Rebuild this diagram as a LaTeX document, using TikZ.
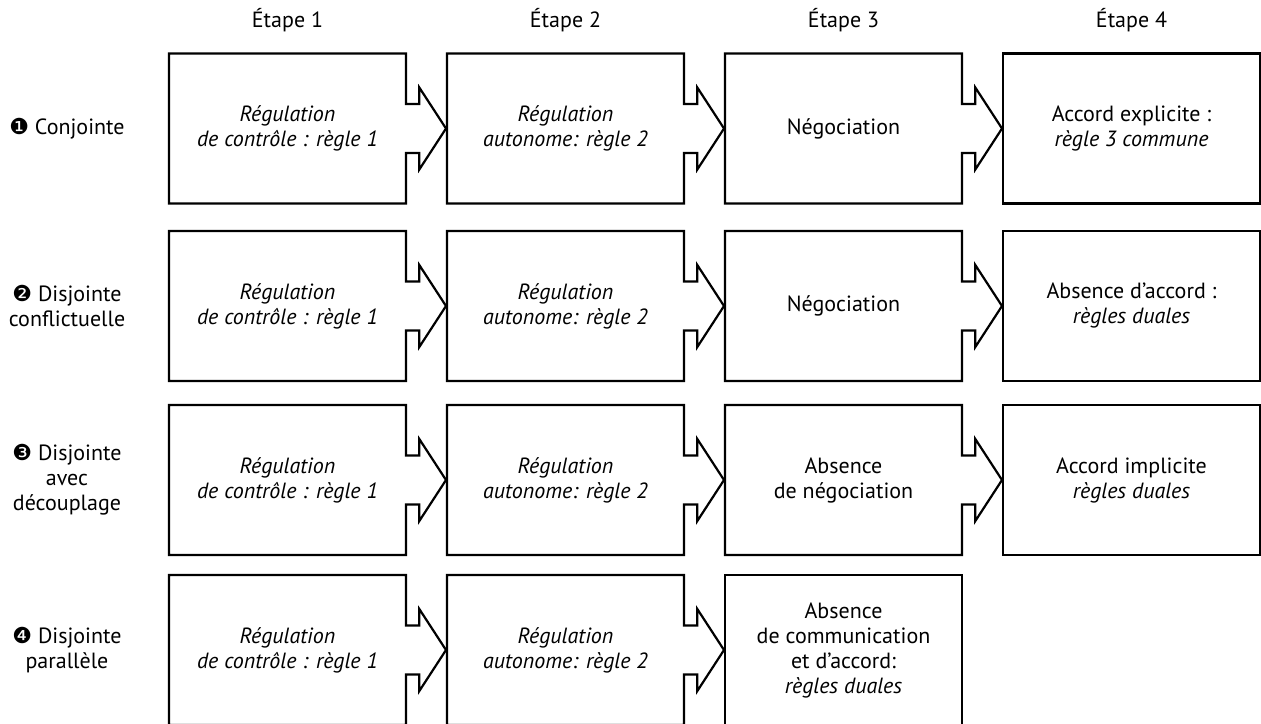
\documentclass[tikz,border=0pt]{standalone}
\usepackage{fontspec}
\setmainfont{PT Sans}
\newfontfamily\dingfont{DejaVu Sans}
\tikzset{
  stepbox/.style={minimum width=118.5pt, minimum height=75pt, inner sep=0pt, outer sep=0pt, align=center},
  lastbox/.style={stepbox, minimum width=128.5pt, draw, line width=1.1pt},
  frame/.style={line width=1.1pt, line join=miter},
  rowlabel/.style={align=center},
}
\begin{document}
\fontsize{11pt}{12.5pt}\selectfont
\begin{tikzpicture}[x=0.5pt, y=-0.5pt, font=\fontsize{11pt}{12.5pt}\selectfont]
    \useasboundingbox (0,0) rectangle (1261,723);
    \clip (0,0) rectangle (1261,723);
    % headings
    \node (head1) at (287.5,20) {Étape 1};
    \node (head2) at (565.5,20) {Étape 2};
    \node (head3) at (843.5,20) {Étape 3};
    \node (head4) at (1131.5,20) {Étape 4};
    % row labels
    \node[rowlabel] (lab1) at (67,128.5) {{\dingfont ❶} Conjointe};
    \node[rowlabel] (lab2) at (67,306) {{\dingfont ❷} Disjointe\\conflictuelle};
    \node[rowlabel] (lab3) at (67,480) {{\dingfont ❸} Disjointe\\avec\\découplage};
    \node[rowlabel] (lab4) at (67,650) {{\dingfont ❹} Disjointe\\parallèle};
    % row 1
    \node[stepbox] (b11) at (287.5,128.5) {\textit{Régulation}\\\textit{de contrôle : règle 1}};
    \node[stepbox] (b12) at (565.5,128.5) {\textit{Régulation}\\\textit{autonome: règle 2}};
    \node[stepbox] (b13) at (843.5,128.5) {Négociation};
    \node[lastbox] (b14) at (1131.5,128.5) {Accord explicite :\\\textit{règle 3 commune}};
    % row 2
    \node[stepbox] (b21) at (287.5,306) {\textit{Régulation}\\\textit{de contrôle : règle 1}};
    \node[stepbox] (b22) at (565.5,306) {\textit{Régulation}\\\textit{autonome: règle 2}};
    \node[stepbox] (b23) at (843.5,306) {Négociation};
    \node[lastbox] (b24) at (1131.5,306) {Absence d’accord :\\\textit{règles duales}};
    % row 3
    \node[stepbox] (b31) at (287.5,480) {\textit{Régulation}\\\textit{de contrôle : règle 1}};
    \node[stepbox] (b32) at (565.5,480) {\textit{Régulation}\\\textit{autonome: règle 2}};
    \node[stepbox] (b33) at (843.5,480) {Absence\\de négociation};
    \node[lastbox] (b34) at (1131.5,480) {Accord implicite\\\textit{règles duales}};
    % row 4
    \node[stepbox] (b41) at (287.5,650) {\textit{Régulation}\\\textit{de contrôle : règle 1}};
    \node[stepbox] (b42) at (565.5,650) {\textit{Régulation}\\\textit{autonome: règle 2}};
    \node[stepbox, draw, line width=1.1pt] (b43) at (843.5,650) {Absence\\de communication\\et d’accord:\\\textit{règles duales}};
    % boxes with arrow
    \foreach \n in {b11,b12,b13,b21,b22,b23,b31,b32,b33,b41,b42}
        \draw[frame] (\n.east) ++(0,-24.5) -- ++(13.3,0) -- ++(0,-16.5) -- ++(26.7,41)
            -- ++(-26.7,41) -- ++(0,-16.5) -- ++(-13.3,0) -- (\n.south east)
            -- (\n.south west) -- (\n.north west) -- (\n.north east) -- cycle;
\end{tikzpicture}
\end{document}
